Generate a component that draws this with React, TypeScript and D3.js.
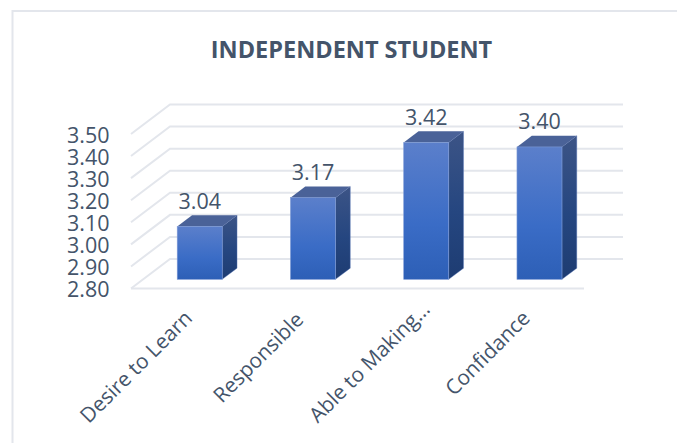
import React from "react";
import * as d3 from "d3";

const categories = ["Desire to Learn", "Responsible", "Able to Making…", "Confidance"];
const scores = [3.04, 3.17, 3.42, 3.4];
const tickValues = [2.8, 2.9, 3.0, 3.1, 3.2, 3.3, 3.4, 3.5];
const chartTitle = "INDEPENDENT STUDENT";

const W = 677;
const H = 443;
const INK = "#44546a";
const GRID = "#e3e6ec";
const FONT = "'Open Sans', sans-serif";

// Oblique projection: the floor's front edge, plus a shift for depth 0..1.
const x = d3.scaleBand<string>().domain(categories).range([131, 584]);
const y = d3.scaleLinear().domain([2.8, 3.5]).range([288.5, 134]);
const depthX = d3.scaleLinear().domain([0, 1]).range([0, 39]);
const depthY = d3.scaleLinear().domain([0, 1]).range([0, -29.5]);
const barFront = 0.31;
const barBack = 0.69;
const barWidth = 45;

// Where each rotated category label ends, relative to its band centre and the axis.
const labelShiftX = [6, 4, 17, 4];
const labelShiftY = [31, 32.5, 22, 31];

const pts = (p: [number, number][]) => p.map((d) => d.join(",")).join(" ");

export default function App() {
  const [x0, x1] = x.range();
  return (
    <svg
      width={W}
      height={H}
      viewBox={`0 0 ${W} ${H}`}
      style={{ position: "absolute", left: 0, top: 0, background: "#fff", fontFamily: FONT }}
    >
      <defs>
        <linearGradient id="front" x1="0" y1="0" x2="0" y2="1">
          <stop offset="0" stopColor="#5b7fcb" />
          <stop offset="0.6" stopColor="#3a6cc6" />
          <stop offset="1" stopColor="#2d5fb6" />
        </linearGradient>
        <linearGradient id="side" x1="0" y1="0" x2="0" y2="1">
          <stop offset="0" stopColor="#3c5486" />
          <stop offset="0.55" stopColor="#254680" />
          <stop offset="1" stopColor="#1e3c72" />
        </linearGradient>
      </defs>

      {/* Chart area border, open to the right and bottom edges */}
      <path d={`M12.5 ${H} V11 H${W}`} fill="none" stroke={GRID} strokeWidth={2} />

      <text x={351.5} y={57.5} textAnchor="middle" fontSize={23.5} fontWeight={700} fill={INK}>
        {chartTitle}
      </text>

      {/* Side wall and back wall gridlines */}
      {tickValues.map((t) => {
        const py = y(t);
        const by = py + depthY(1);
        return (
          <polyline
            key={t}
            points={pts([[x0, py], [x0 + depthX(1), by], [x1 + depthX(1), by]])}
            fill="none"
            stroke={GRID}
            strokeWidth={2}
          />
        );
      })}
      <line x1={x0} x2={x1} y1={y(2.8)} y2={y(2.8)} stroke={GRID} strokeWidth={2} />

      {tickValues.map((t) => (
        <text key={t} x={109.5} y={y(t) + 8.5} textAnchor="end" fontSize={21.5} fill={INK}>
          {t.toFixed(2)}
        </text>
      ))}

      {/* Columns: front face, top and right side */}
      {categories.map((c, i) => {
        const v = scores[i];
        const cx = (x(c) as number) + x.bandwidth() / 2 + depthX(barFront);
        const l = cx - barWidth / 2;
        const r = cx + barWidth / 2;
        const b = y(2.8) + depthY(barFront);
        const t = y(v) + depthY(barFront);
        const dx = depthX(barBack - barFront);
        const dy = depthY(barBack - barFront);
        return (
          <g key={c}>
            <polygon points={pts([[r, t], [r + dx, t + dy], [r + dx, b + dy], [r, b]])} fill="url(#side)" stroke="#5f7fbf" strokeWidth={0.4} />
            <polygon points={pts([[l, t], [l + dx, t + dy], [r + dx, t + dy], [r, t]])} fill="#4a6298" />
            <rect x={l} y={t} width={barWidth} height={b - t} fill="url(#front)" stroke="#7f9bd6" strokeWidth={0.6} />
            <text x={cx} y={t - 17.5} textAnchor="middle" fontSize={21.5} fill={INK}>
              {v.toFixed(2)}
            </text>
          </g>
        );
      })}

      {/* Category labels rotated 45 degrees, ending under each column */}
      {categories.map((c, i) => (
        <text
          key={c}
          transform={`translate(${(x(c) as number) + x.bandwidth() / 2 + labelShiftX[i]}, ${y(2.8) + labelShiftY[i]}) rotate(-45)`}
          textAnchor="end"
          fontSize={20.8}
          fill={INK}
        >
          {c}
        </text>
      ))}
    </svg>
  );
}
